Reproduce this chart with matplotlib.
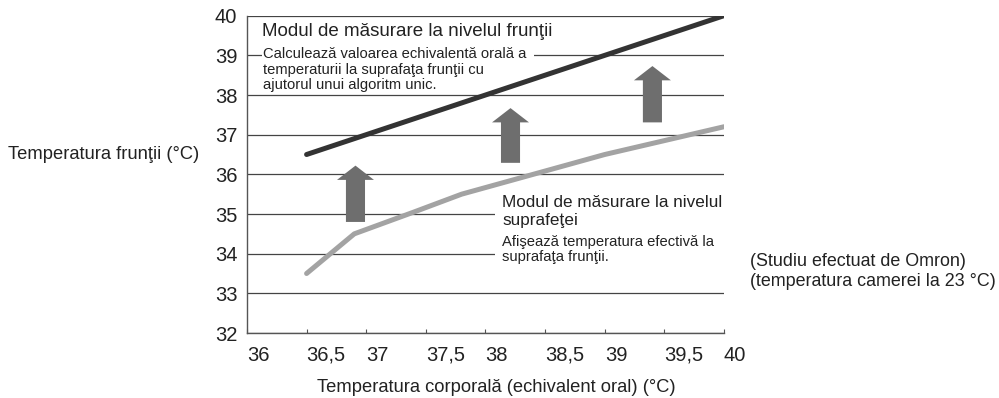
import matplotlib.pyplot as plt
from matplotlib.patches import Rectangle, FancyArrow

plt.rcParams['font.family'] = ['Liberation Sans', 'DejaVu Sans']

# corpul (echivalent oral) vs. fruntea
x_ticks = [36, 36.5, 37, 37.5, 38, 38.5, 39, 39.5, 40]
x_labels = ["36", "36,5", "37", "37,5", "38", "38,5", "39", "39,5", "40"]
y_ticks = [32, 33, 34, 35, 36, 37, 38, 39, 40]

frunte_x = [36.5, 40]
frunte_y = [36.5, 40]

suprafata_x = [36.5, 36.9, 37.4, 37.8, 38.4, 39.0, 40.0]
suprafata_y = [33.5, 34.5, 35.05, 35.5, 36.0, 36.5, 37.2]

# sageti: x, baza, varf
arrow_x = [36.91, 38.21, 39.4]
arrow_from = [34.8, 36.29, 37.31]
arrow_to = [36.22, 37.67, 38.73]

fig = plt.figure(figsize=(9.99, 3.98), dpi=100)
ax = fig.add_axes([0.2472, 0.1633, 0.4775, 0.7973])

ax.set_xlim(36, 40)
ax.set_ylim(32, 40)

for s in ['top', 'right']:
    ax.spines[s].set_visible(False)
for s in ['left', 'bottom']:
    ax.spines[s].set_color('#555555')
    ax.spines[s].set_linewidth(1.0)

ax.set_yticks(y_ticks)
ax.set_yticklabels([str(v) for v in y_ticks])
ax.set_xticks(x_ticks)
ax.set_xticklabels(x_labels, ha='left')
ax.tick_params(axis='y', length=0, pad=7, labelsize=14.5, colors='#222222')
ax.tick_params(axis='x', direction='in', length=3, width=0.8, color='#555555',
               pad=9, labelsize=14.5, labelcolor='#222222')

ax.yaxis.grid(True, color='#444444', linewidth=0.9)
ax.set_axisbelow(True)

# fundal alb sub blocurile de text (acopera liniile de grila)
ax.add_patch(Rectangle((36.13, 38.13), 2.28, 1.71, facecolor='white',
                       edgecolor='none', zorder=1))
ax.add_patch(Rectangle((38.08, 33.8), 1.92, 1.8, facecolor='white',
                       edgecolor='none', zorder=1))

ax.plot(frunte_x, frunte_y, color='#333333', linewidth=3.6,
        solid_capstyle='round', zorder=3)
ax.plot(suprafata_x, suprafata_y, color='#a3a3a3', linewidth=3.6,
        solid_capstyle='round', zorder=3)

for xa, y0, y1 in zip(arrow_x, arrow_from, arrow_to):
    ax.add_patch(FancyArrow(xa, y0, 0, y1 - y0, width=0.16, head_width=0.31,
                            head_length=0.36, length_includes_head=True,
                            color='#6e6e6e', linewidth=0, zorder=3))

ax.text(36.125, 39.61, "Modul de măsurare la nivelul frunţii", fontsize=13.5,
        va='center', ha='left', color='#222222', zorder=4)
ax.text(36.134, 39.2,
        "Calculează valoarea echivalentă orală a\n"
        "temperaturii la suprafaţa frunţii cu\n"
        "ajutorul unui algoritm unic.",
        fontsize=10.6, va='top', ha='left', linespacing=1.12,
        color='#222222', zorder=4)

ax.text(38.14, 35.48, "Modul de măsurare la nivelul\nsuprafeţei", fontsize=12.3,
        va='top', ha='left', linespacing=1.22, color='#222222', zorder=4)
ax.text(38.14, 34.47, "Afişează temperatura efectivă la\nsuprafaţa frunţii.",
        fontsize=10.6, va='top', ha='left', linespacing=1.05,
        color='#222222', zorder=4)

fig.text(0.008, 0.6106, "Temperatura frunţii (°C)", fontsize=13.2,
         va='center', ha='left', color='#222222')
fig.text(0.4965, 1 - 387 / 398, "Temperatura corporală (echivalent oral) (°C)",
         fontsize=13.2, va='center', ha='center', color='#222222')
fig.text(0.7508, 1 - 261 / 398, "(Studiu efectuat de Omron)", fontsize=12.9,
         va='center', ha='left', color='#222222')
fig.text(0.7508, 1 - 281 / 398, "(temperatura camerei la 23 °C)", fontsize=12.9,
         va='center', ha='left', color='#222222')

fig.savefig("out.png", dpi=100)
